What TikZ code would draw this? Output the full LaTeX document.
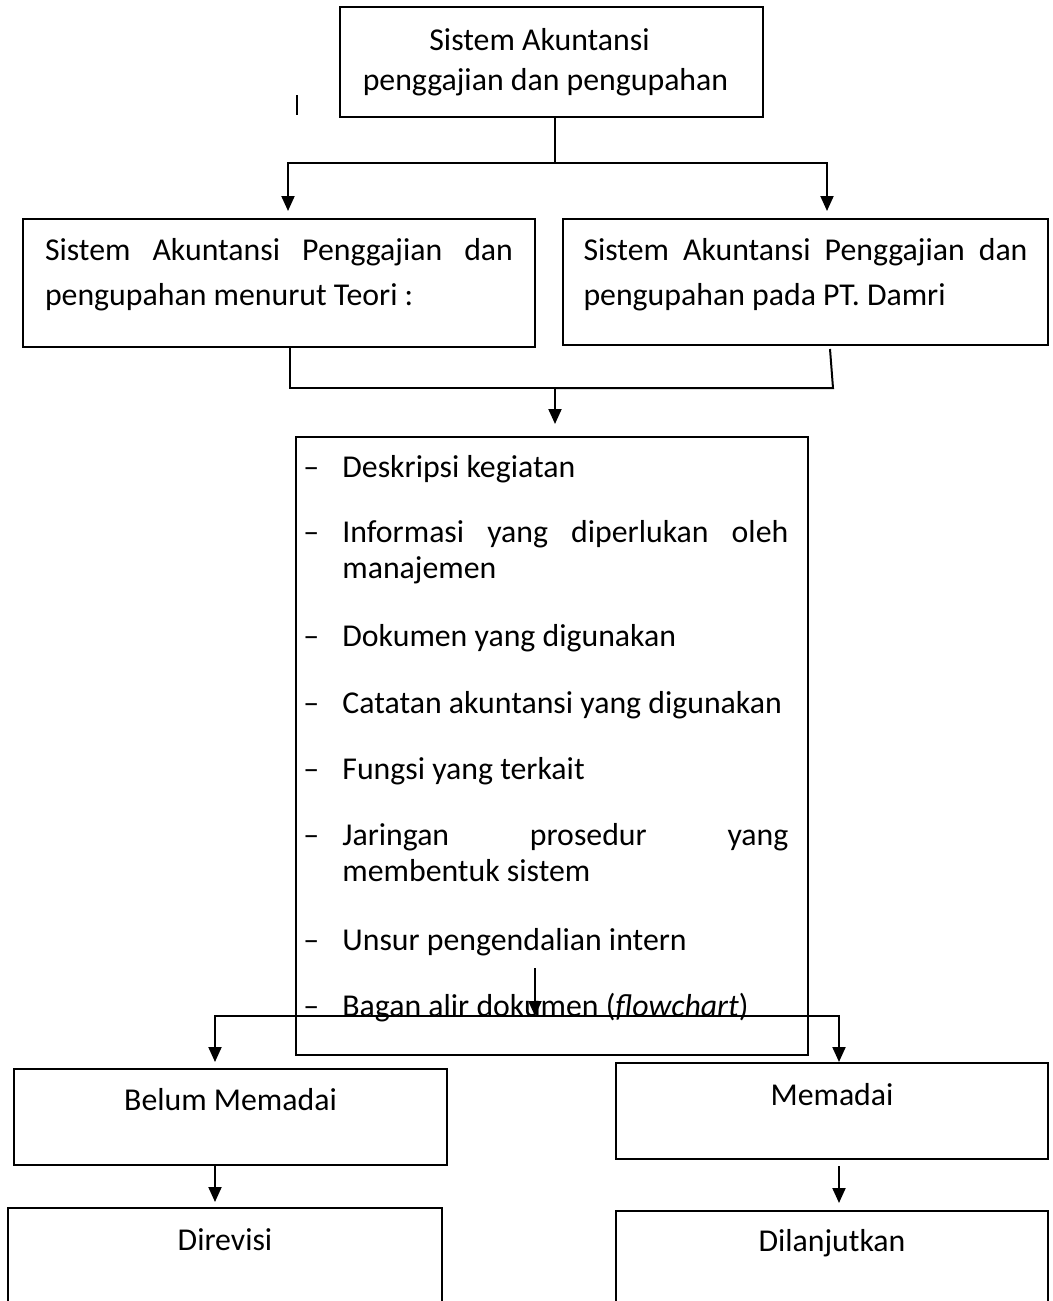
\documentclass[tikz,border=0pt]{standalone}
\usepackage{fontspec}
\setmainfont{Carlito}
\usetikzlibrary{arrows.meta}
\newcommand{\spreadline}[2]{\hbox to #1{\spaceskip=0pt\xspaceskip=0pt\relax #2}}

\begin{document}
\begin{tikzpicture}[
  x=0.5pt, y=-0.5pt,
  every node/.append style={execute at begin node={\spaceskip=0pt\xspaceskip=0pt\relax}},
  box/.style={rectangle, draw=black, line width=1pt, inner sep=0pt, text height=0pt, font=\fontsize{15.9}{20}\selectfont},
  item/.style={anchor=base west, inner sep=0pt, text width=240pt, align=left, font=\fontsize{15.9}{18}\selectfont},
  bullet/.style={anchor=base west, inner sep=0pt, font=\fontsize{15.9}{18}\selectfont},
  line/.style={line width=1pt, draw=black},
  arrow/.style={line, -{Triangle[length=7.5pt,width=6.5pt]}}
]
\useasboundingbox (0,0) rectangle (1053,1301);

% boxes
\node[box, text width=200pt, align=center, minimum width=211.5pt, minimum height=55pt, text depth=12pt] (sak) at (551.5,62) {\mbox{Sistem Akuntansi\kern12pt}\\\mbox{penggajian dan pengupahan\kern6pt}};
\node[box, text width=234pt, align=left, minimum width=256pt, minimum height=64pt, text depth=23pt, font=\fontsize{15.9}{22.5}\selectfont] (teori) at (279,283) {\spreadline{234pt}{Sistem Akuntansi Penggajian dan}\\pengupahan menurut Teori :};
\node[box, text width=222pt, align=left, minimum width=242.5pt, minimum height=63pt, text depth=22pt, font=\fontsize{15.9}{22.5}\selectfont] (damri) at (805.5,282) {\spreadline{222pt}{Sistem Akuntansi Penggajian dan}\\pengupahan pada PT. Damri};
\node[box, minimum width=256pt, minimum height=309pt] (lst) at (552,746) {};
\node[box, minimum width=216.5pt, minimum height=48pt, text depth=7pt] (belum) at (230.5,1117) {Belum Memadai};
\node[box, minimum width=216pt, minimum height=48pt, text depth=6pt] (memadai) at (832,1111) {Memadai};
\node[box, minimum width=217pt, minimum height=66pt, text depth=24pt] (revisi) at (225,1274) {Direvisi};
\node[box, minimum width=216pt, minimum height=64.5pt, text depth=24.5pt] (lanjut) at (832,1275.5) {Dilanjutkan};

% list items
\foreach \y/\txt [count=\i] in {
  477/{Deskripsi kegiatan},
  542/{\spreadline{223pt}{Informasi yang diperlukan oleh}\\manajemen},
  646/{Dokumen yang digunakan},
  713/{Catatan akuntansi yang digunakan},
  779/{Fungsi yang terkait},
  845/{\spreadline{223pt}{Jaringan prosedur yang}\\membentuk sistem},
  950/{Unsur pengendalian intern},
  1016/{Bagan alir dokumen (\textit{flowchart})}}{
  \node[bullet] (mark\i) at (303,\y) {–};
  \node[item] (item\i) at (342,\y) {\txt};
}

% connectors
\draw[line] (297,95) -- (297,115);
\coordinate (forkA) at (555,163);
\draw[line] (sak.south -| forkA) -- (forkA);
\draw[arrow] (forkA) -| ([xshift=4.5pt,yshift=3.5pt]teori.north);
\draw[arrow] (forkA) -| ([xshift=10.75pt,yshift=3.5pt]damri.north);

\coordinate (forkB) at (555,388);
\draw[line] ([xshift=5.5pt]teori.south) |- (forkB);
\draw[line] ([xshift=12.25pt,yshift=-1.5pt]damri.south) -- (833,388) -- (forkB);
\draw[arrow] (forkB) -- ([xshift=1.5pt,yshift=6pt]lst.north);

\coordinate (listout) at (535,968);
\coordinate (forkC) at (535,1016);
\draw[arrow] (listout) -- (forkC);
\draw[arrow] (forkC) -| ([xshift=-7.75pt,yshift=3pt]belum.north);
\draw[arrow] (forkC) -| ([xshift=3.5pt]memadai.north);

\draw[arrow, shorten >=2.5pt] ([xshift=-7.75pt]belum.south) -- ([xshift=-5pt]revisi.north);
\draw[arrow, shorten <=3pt, shorten >=3.5pt] ([xshift=3.5pt]memadai.south) -- ([xshift=3.5pt]lanjut.north);
\end{tikzpicture}
\end{document}
